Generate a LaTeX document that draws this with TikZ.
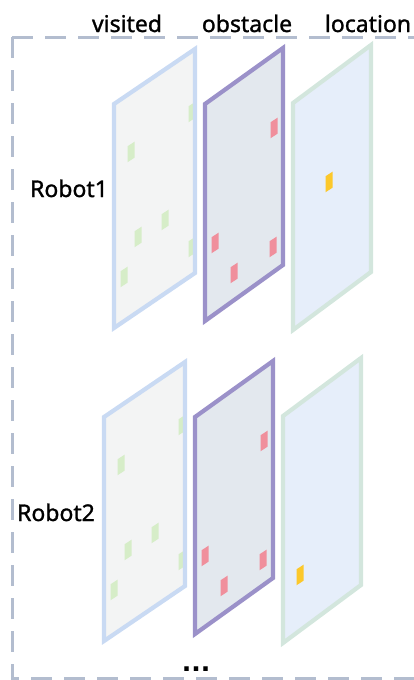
\documentclass[tikz,border=0pt]{standalone}
\usepackage{fontspec}
\setmainfont{Noto Sans}
\newfontfamily\labelfont{Noto Sans}[FakeBold=1.2]
\newfontfamily\dotfont{DejaVu Sans}

\definecolor{framegray}{HTML}{B3BDCF}
\definecolor{visitedline}{HTML}{C9DAF3}
\definecolor{visitedfill}{HTML}{F3F4F4}
\definecolor{obstline}{HTML}{9B91C9}
\definecolor{obstfill}{HTML}{E3E8EE}
\definecolor{locline}{HTML}{D3E6DD}
\definecolor{locfill}{HTML}{E6EEFA}
\definecolor{visitmark}{HTML}{D6EDC8}
\definecolor{obstmark}{HTML}{F08F9C}
\definecolor{locmark}{HTML}{FCC82B}

% sheared sheet: left x, top-left y, width, height, rise of the right side
\newcommand\sheetpath[5]{(#1,#2) -- ++(#3,-#5) -- ++(0,#4) -- ++(-#3,#5) -- cycle}
% one small sheared cell centred at (#2,#3)
\newcommand\cell[3]{\fill[#1] (#2-3.5,#3-5.7) -- ++(7,-4.6) -- ++(0,16) -- ++(-7,4.6) -- cycle;}

% the three map layers of one robot; #1,#2 place the robot's own cell
\newcommand\robotlayers[2]{%
  % visited
  \fill[visitedfill] \sheetpath{114}{104}{81}{224}{55};
  \cell{visitmark}{192}{112}
  \cell{visitmark}{131}{152}
  \cell{visitmark}{165}{220}
  \cell{visitmark}{138}{237}
  \cell{visitmark}{192}{247}
  \cell{visitmark}{124}{277}
  \draw[sheet, visitedline] \sheetpath{114}{104}{81}{224}{55};
  % obstacle
  \fill[obstfill] \sheetpath{205}{104}{78}{217}{56};
  \cell{obstmark}{274}{128}
  \cell{obstmark}{215}{243}
  \cell{obstmark}{273}{247}
  \cell{obstmark}{234}{273}
  \draw[sheet, obstline] \sheetpath{205}{104}{78}{217}{56};
  % location
  \fill[locfill] \sheetpath{293}{103}{78}{227}{58};
  \cell{locmark}{#1}{#2}
  \draw[sheet, locline] \sheetpath{293}{103}{78}{227}{58};
}

\begin{document}
\begin{tikzpicture}[x=1pt, y=-1pt,
  sheet/.style={line width=4.2pt, line join=miter},
  frame/.style={draw=framegray, line width=3pt, dash pattern=on 21pt off 12pt},
  header/.style={anchor=base, font=\labelfont\fontsize{23}{25}\selectfont, inner sep=0pt},
  robot/.style={anchor=base, font=\labelfont\fontsize{23}{25}\selectfont, inner sep=0pt}]
  \useasboundingbox (0,0) rectangle (414,680);

  % dashed enclosure, open on the right
  \draw[frame] (12,37) -- (414,37);
  \draw[frame] (12,37) -- (12,678) -- (414,678);

  % column headers
  \node[header] (hvisited) at (127,32) {visited};
  \node[header] (hobstacle) at (247,32) {obstacle};
  \node[header] (hlocation) at (368,32) {location};

  % first robot
  \robotlayers{329}{182}
  \node[robot] (robot1) at (69,197) {Robot1};

  % second robot
  \begin{scope}[shift={(-10,313)}]
    \robotlayers{310}{262}
  \end{scope}
  \node[robot] (robot2) at (56,521) {Robot2};

  % more robots follow
  \node[anchor=base, inner sep=0pt, font=\dotfont\bfseries\fontsize{25}{27}\selectfont] (more) at (196,671) {...};
\end{tikzpicture}
\end{document}
